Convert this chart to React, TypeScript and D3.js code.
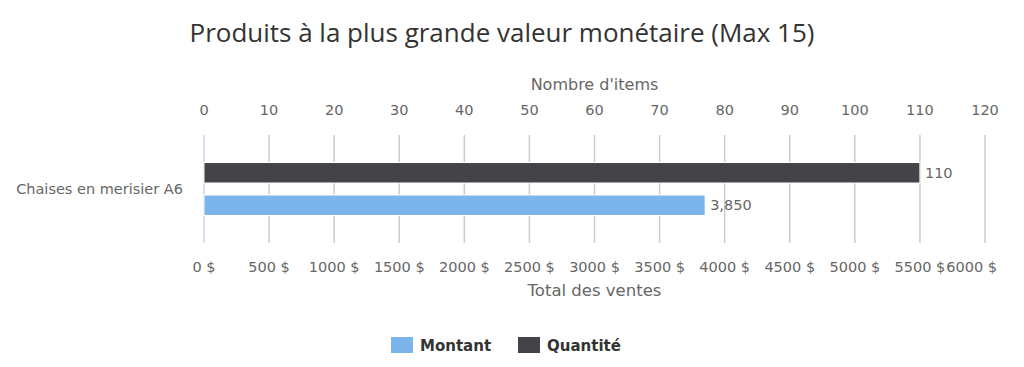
import React from "react";
import * as d3 from "d3";

const categories = ["Chaises en merisier A6"];
const seriesNames = ["Quantité", "Montant"];
const quantiteValues = [110];
const montantValues = [3850];
const topTicks = [0, 10, 20, 30, 40, 50, 60, 70, 80, 90, 100, 110, 120];
const bottomTicks = [0, 500, 1000, 1500, 2000, 2500, 3000, 3500, 4000, 4500, 5000, 5500, 6000];
const legendItems = ["Montant", "Quantité"];

const W = 1024;
const H = 367;
const M = { left: 204, right: 985, top: 135, bottom: 243 };
const colors: Record<string, string> = { Montant: "#7cb5ec", "Quantité": "#434348" };
const FONT = "'DejaVu Sans', 'Lucida Grande', sans-serif";

export default function App() {
  const xTop = d3.scaleLinear().domain([0, 120]).range([M.left, M.right]);
  const xBottom = d3.scaleLinear().domain([0, 6000]).range([M.left, M.right]);
  const yCat = d3.scaleBand().domain(categories).range([M.top, M.bottom]).paddingOuter(0.52).paddingInner(0);
  const ySeries = d3.scaleBand().domain(seriesNames).range([0, yCat.bandwidth()]).paddingInner(0.37).paddingOuter(0);

  return (
    <svg width={W} height={H} style={{ position: "absolute", left: 0, top: 0, background: "#fff" }}>
      <text x={502} y={42} textAnchor="middle" fontFamily="'Open Sans', sans-serif" fontSize={25} fill="#333" textLength={625} lengthAdjust="spacingAndGlyphs">
        Produits à la plus grande valeur monétaire (Max 15)
      </text>
      {/* top axis */}
      <text x={(M.left + M.right) / 2} y={90} textAnchor="middle" fontFamily={FONT} fontSize={16} fill="#666">
        Nombre d'items
      </text>
      {topTicks.map((t) => (
        <text key={"t" + t} x={xTop(t)} y={115} textAnchor="middle" fontFamily={FONT} fontSize={14.5} fill="#666">
          {t}
        </text>
      ))}
      {/* grid */}
      {bottomTicks.map((t, i) =>
        i === 0 ? null : (
          <line key={"g" + t} x1={xBottom(t)} x2={xBottom(t)} y1={M.top} y2={M.bottom} stroke="#cccccc" strokeWidth={1.5} />
        )
      )}
      <line x1={M.left} x2={M.left} y1={M.top} y2={M.bottom} stroke="#ccd6eb" strokeWidth={1.5} />
      {/* bars */}
      {categories.map((c, ci) => {
        const y0 = yCat(c)!;
        const q = quantiteValues[ci];
        const m = montantValues[ci];
        const yq = y0 + ySeries("Quantité")!;
        const ym = y0 + ySeries("Montant")!;
        return (
          <g key={c}>
            <text x={M.left - 21} y={(M.top + M.bottom) / 2 + 5} textAnchor="end" fontFamily={FONT} fontSize={14.5} fill="#666">
              {c}
            </text>
            <rect x={xTop(0)} y={yq} width={xTop(q) - xTop(0)} height={ySeries.bandwidth()} fill={colors["Quantité"]} stroke="#fff" strokeWidth={1} />
            <text x={xTop(q) + 5} y={yq + ySeries.bandwidth() / 2 + 5} fontFamily={FONT} fontSize={14.5} fill="#666">
              {d3.format(",")(q)}
            </text>
            <rect x={xBottom(0)} y={ym} width={xBottom(m) - xBottom(0)} height={ySeries.bandwidth()} fill={colors["Montant"]} stroke="#fff" strokeWidth={1} />
            <text x={xBottom(m) + 5} y={ym + ySeries.bandwidth() / 2 + 5} fontFamily={FONT} fontSize={14.5} fill="#666">
              {d3.format(",")(m)}
            </text>
          </g>
        );
      })}
      {/* bottom axis */}
      {bottomTicks.map((t, i) => {
        const last = i === bottomTicks.length - 1;
        return (
          <text
            key={"b" + t}
            x={last ? 997 : xBottom(t)}
            y={272}
            textAnchor={last ? "end" : "middle"}
            fontFamily={FONT}
            fontSize={14.5}
            fill="#666"
          >
            {t + " $"}
          </text>
        );
      })}
      <text x={(M.left + M.right) / 2} y={296} textAnchor="middle" fontFamily={FONT} fontSize={16.5} fill="#666">
        Total des ventes
      </text>
      {/* legend */}
      {legendItems.map((name, i) => {
        const lx = i === 0 ? 391 : 518;
        return (
          <g key={name}>
            <rect x={lx} y={337} width={22} height={16} fill={colors[name]} />
            <text x={lx + 29} y={351} fontFamily={FONT} fontSize={15} fontWeight="bold" fill="#333">
              {name}
            </text>
          </g>
        );
      })}
    </svg>
  );
}
